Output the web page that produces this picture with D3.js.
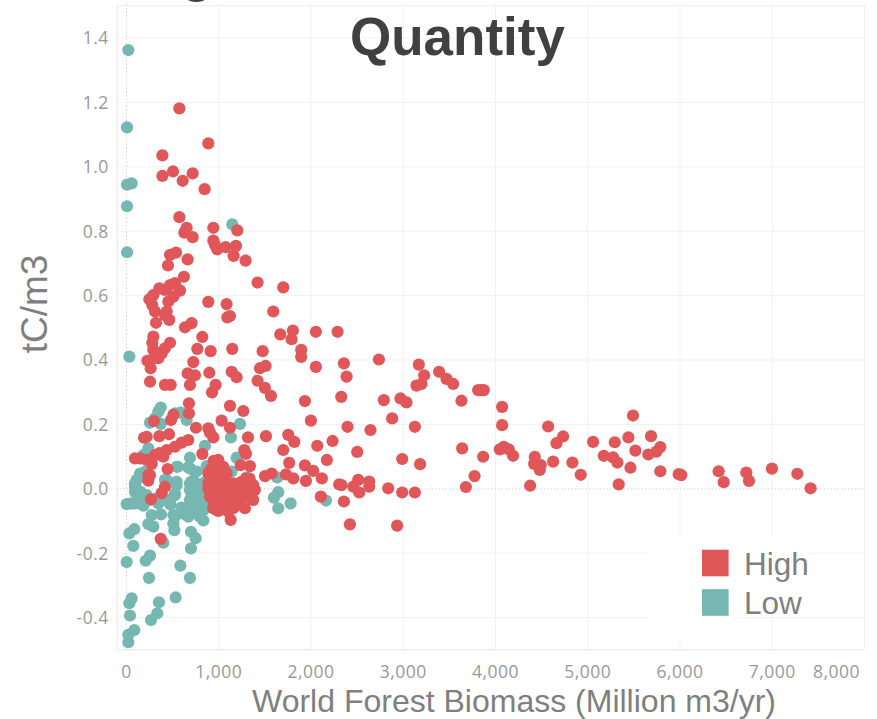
<!DOCTYPE html>
<html><head><meta charset="utf-8">
<script src="https://cdnjs.cloudflare.com/ajax/libs/d3/7.8.5/d3.min.js"></script>
<style>html,body{margin:0;padding:0;background:#fff;overflow:hidden}svg{display:block}</style>
</head><body><svg id="c" width="877" height="719"></svg>
<script>
const titleText = "Quantity";
const xTitle = "World Forest Biomass (Million m3/yr)";
const yTitle = "tC/m3";
const categories = ["High","Low"];
const colors = ["#E15759","#76B7B2"];
const xTicks = [0,1000,2000,3000,4000,5000,6000,7000,8000];
const yTicks = [-0.4,-0.2,0,0.2,0.4,0.6,0.8,1.0,1.2,1.4];
const lowPoints = [
[25,1.361],[11,1.121],[11,.943],[61,.947],[11,.876],[11,.733],[36,.409],[1152,.82],
[376,.251],[350,.238],[260,.204],[314,.217],[376,.2],[531,.233],[592,.235],[657,.212],[1235,.2],[1137,.158],[856,.132],[242,.124],[188,.103],[1199,.095],[693,.095],[560,.067],[675,.065],[765,.052],[874,.069],[1307,.034],[1145,.052],[1639,.034],[1650,-.012],[1603,-.029],[1784,-.047],[1650,-.062],[2167,-.038],
[116,.026],[98,.005],[152,.046],[152,-.01],[224,-.021],[332,-.031],[440,-.036],[531,-.021],[549,.01],[440,.026],[7,-.049],[98,-.047],[188,-.054],[278,-.083],[379,-.081],[242,-.111],[296,-.119],[513,-.083],[513,-.109],[524,-.13],[603,-.073],[711,.021],[693,-.005],[765,.005],[711,-.031],[801,-.031],[711,-.057],[801,-.062],[657,-.083],[765,-.078],[838,-.1],[704,-.135],[755,-.155],[704,-.187],[881,-.057],
[90,-.127],[36,-.14],[79,-.179],[404,-.169],[7,-.229],[260,-.209],[213,-.225],[589,-.24],[693,-.278],[249,-.278],[538,-.339],[61,-.342],[36,-.357],[357,-.354],[43,-.395],[339,-.388],[271,-.409],[90,-.44],[25,-.455],[25,-.478],
[97,.015],[97,-.011],[151,-.026],[260,-.036],[350,-.047],[458,-.036],[530,-.016],[549,.02],[422,.026],[151,.036],[205,.051],[693,.015],[765,.015],[711,-.005],[801,-.005],[693,-.036],[801,-.036],[729,-.068],[621,-.078],[530,-.088],[838,-.068],[675,-.088],[801,-.088],[747,.051],[693,.062],[549,.067],[60,-.047],[600,-.06],[660,-.06],[480,-.05],[880,-.03],[860,.02],[840,-.01]
];
const highPoints = [
[578,1.18],[892,1.071],[394,1.034],[394,.97],[509,.984],[614,.955],[722,.978],[852,.929],[578,.842],[657,.809],[632,.794],[722,.78],[946,.809],[1206,.801],[946,.769],[964,.756],[989,.742],[1080,.749],[1192,.753],[1166,.722],[1296,.707],[668,.711],[542,.732],[477,.725],[455,.692],[628,.657],[1426,.639],[1704,.624],[892,.579],[1090,.572],[1127,.535],[1098,.531],[1596,.549],[1672,.478],[1809,.49],[1795,.463],[2058,.486],[2293,.486],[1899,.43],[1899,.408],[1481,.426],[1152,.433],[917,.426],[773,.433],[827,.47],[711,.513],[639,.5],
[253,.587],[361,.621],[477,.631],[585,.614],[531,.637],[422,.616],[296,.6],[513,.595],[459,.58],[285,.569],[314,.549],[441,.549],[469,.523],[325,.514],[422,.538],
[296,.471],[285,.452],[477,.452],[422,.435],[296,.43],[350,.404],[386,.419],[231,.396],[267,.373],[296,.404],[729,.392],[260,.331],[422,.321],[484,.321],[668,.357],[747,.351],[903,.359],[1145,.362],[1199,.345],
[693,.321],[971,.321],[932,.298],[1426,.334],[1506,.312],[1571,.287],[1452,.373],[1513,.38],[682,.264],[682,.233],[1127,.256],[1271,.24],[1036,.21],[1127,.188],[892,.186],[910,.173],[946,.158],[758,.188],[513,.228],[487,.212],[303,.209],[1322,.158],[1517,.162],[1759,.166],[1824,.144],[1704,.119],[1769,.079],[1939,.071],[2029,.054],[2123,.031],[1950,.023],[1813,.031],[1733,.043],[1578,.046],[1506,.038],
[1939,.271],[2004,.21],[2073,.132],[2239,.147],[2177,.088],[2401,.191],[2333,.284],[2391,.347],[2362,.388],[2058,.377],[2506,.113],[2650,.181],[2795,.274],[2885,.217],[2975,.279],[3040,.267],[3131,.191],[2994,.091],[3188,.075],[2311,.012],[2336,.01],[2517,.026],[2463,.005],[2636,.021],[2636,.005],[2528,-.013],[2842,0],[2994,-.013],[3131,-.013],[2112,-.026],[2362,-.041],[2427,-.112],[2939,-.116],
[3149,.319],[3203,.324],[3232,.351],[3174,.384],[2741,.4],[3394,.362],[3474,.34],[3546,.324],[3636,.272],[3817,.305],[3853,.305],[3879,.305],[4077,.253],[4077,.196],[3644,.124],[3871,.098],[3778,.038],[3684,.004],[4052,.121],[4095,.129],[4149,.121],[4196,.101],[4381,.008],[4431,.098],[4424,.076],[4496,.072],[4485,.057],[4630,.083],[4576,.192],[4738,.161],[4666,.14],[4839,.08],[4929,.042],[5063,.144],[5179,.101],[5298,.143],[5280,.096],[5327,.08],[5341,.012],[5446,.158],[5496,.226],[5522,.117],[5468,.064],[5691,.162],[5662,.105],[5749,.114],[5792,.128],[5792,.053],[5991,.044],[6020,.041],[6424,.053],[6479,.019],[6724,.049],[6753,.023],[7002,.061],[7277,.045],[7421,0],
[195,.157],[224,.16],[361,.162],[466,.168],[675,.15],[603,.142],[531,.129],[441,.119],[361,.109],[314,.103],[97,.093],[152,.093],[224,.088],[278,.076],[404,.098],[451,.06],[827,.107],[260,.041],[242,.024],[242,.041],[422,.005],[386,-.015],[271,-.034],[376,-.157],
[1282,.119],[1300,.107],[1242,.072],[1343,.069],[1000,.088],[928,.062],[1054,.067],[1090,.047],[892,.047],[964,.031],[1036,.026],[892,0],[964,-.005],[1054,.005],[1144,0],[1217,-.005],[1289,.021],[1379,.01],[1325,-.005],[1397,-.005],[1379,-.036],[946,-.036],[1036,-.026],[1126,-.031],[1235,-.036],[1289,-.062],[1325,-.026],[946,-.062],[982,-.067],[1054,-.057],[1162,-.062],[1108,-.073],[1134,-.098],[910,-.026],[892,.015],[1000,.047],[1199,-.021],[1090,-.016],[1000,.015],[1162,.015],
[1000,.07],[950,.085],[928,.03],[1072,.03],[1000,-.005],[1090,.01],[1110,-.05],[1180,-.04],[1260,-.01],[1000,-.04],[1080,-.05],[1000,-.07],[920,0],[1070,-.02],[1200,-.05],[1340,.03],[1300,.03],[1250,.02],[1350,-.03],[1240,-.02],[1160,-.02],[1020,.03]
];

const svg = d3.select("#c");
const x = d3.scaleLinear().domain([-100,8000]).range([116.8,864]);
const y = d3.scaleLinear().domain([-0.5,1.5]).range([649.3,5.3]);
const tickFont = "'Open Sans', Lato, sans-serif";
const labelFont = "'Liberation Sans', Arial, sans-serif";

// axes with gridlines
const gx = svg.append("g").attr("transform","translate(0,649.3)")
  .call(d3.axisBottom(x).tickValues(xTicks).tickFormat(d3.format(",")).tickSize(-645).tickPadding(16));
const gy = svg.append("g").attr("transform","translate(116.8,0)")
  .call(d3.axisLeft(y).tickValues(yTicks).tickFormat(v=>d3.format(".1f")(v).replace("\u2212","-")).tickSize(-747.2).tickPadding(8));
[gx,gy].forEach(g=>{
  g.select(".domain").attr("stroke","#ececec").attr("stroke-width",1);
  g.selectAll(".tick line").attr("stroke","#f1f1f1").attr("stroke-width",1);
  g.selectAll("text").attr("fill","#999").attr("font-family",tickFont).attr("font-size",17.5).attr("letter-spacing",0.5);
});
gx.selectAll(".tick").filter(d=>d===0).select("line").attr("stroke","#c4c4c4").attr("stroke-dasharray","1 2.5");
gy.selectAll(".tick").filter(d=>d===0).select("line").attr("stroke","#c4c4c4").attr("stroke-dasharray","1 2.5");
gx.selectAll(".tick").filter(d=>d===8000).select("text").attr("dx",-28);
gy.selectAll("text").attr("dy","0.36em");

// points
const marks = svg.append("g");
[[lowPoints,colors[1]],[highPoints,colors[0]]].forEach(([pts,c])=>{
  marks.append("g").selectAll("circle").data(pts).join("circle")
    .attr("cx",d=>x(d[0])).attr("cy",d=>y(d[1])).attr("r",6.1).attr("fill",c);
});

// legend
const lg = svg.append("g");
lg.append("rect").attr("x",648).attr("y",537).attr("width",160).attr("height",63).attr("fill","#fff");
lg.append("rect").attr("x",648).attr("y",600).attr("width",90).attr("height",36).attr("fill","#fff");
const ly = d3.scalePoint().domain(categories).range([563,602.5]);
categories.forEach((c,i)=>{
  lg.append("rect").attr("x",702).attr("y",ly(c)-13.3).attr("width",26.6).attr("height",26.6).attr("fill",colors[i]);
  lg.append("text").attr("x",744).attr("y",ly(c)+11.5).attr("font-family",labelFont).attr("font-size",31.5).attr("fill","#7f7f7f").text(c);
});

// titles
svg.append("text").attr("x",457.5).attr("y",55).attr("text-anchor","middle").attr("font-family",labelFont)
  .attr("font-weight","bold").attr("font-size",53).attr("fill","#404040").text(titleText);
svg.append("text").attr("x",197).attr("y",-9).attr("text-anchor","middle").attr("font-family",labelFont)
  .attr("font-weight","bold").attr("font-size",53).attr("fill","#404040").text("g");
svg.append("text").attr("x",514).attr("y",712).attr("text-anchor","middle").attr("font-family",labelFont)
  .attr("font-size",32).attr("fill","#7f7f7f").text(xTitle);
svg.append("text").attr("transform","translate(47,304) rotate(-90)").attr("text-anchor","middle").attr("font-family",labelFont)
  .attr("font-size",37).attr("fill","#7f7f7f").text(yTitle);
</script></body></html>
